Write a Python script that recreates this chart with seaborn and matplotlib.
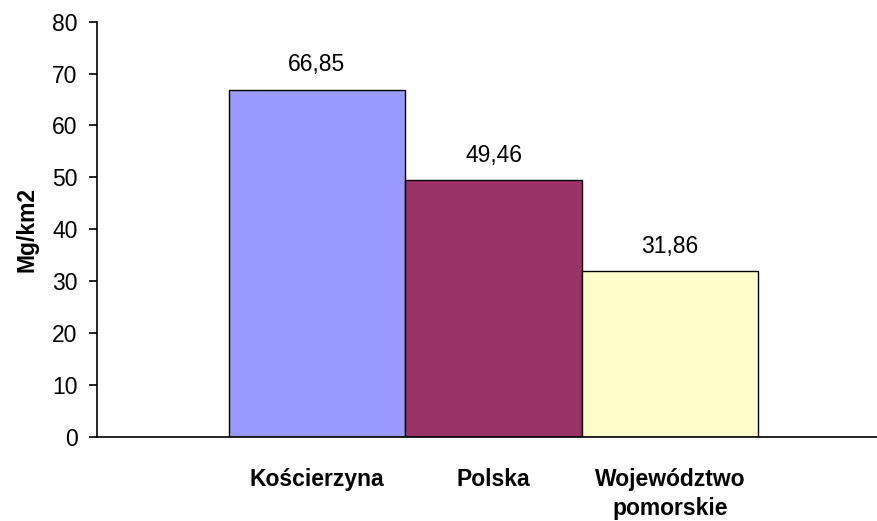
import matplotlib
matplotlib.use("Agg")
import matplotlib.pyplot as plt
import seaborn as sns

# data
categories = ["Kościerzyna", "Polska", "Województwo\npomorskie"]
values = [66.85, 49.46, 31.86]
colors = ["#9999FF", "#993366", "#FFFFCC"]

sns.set_style("white")
plt.rcParams["font.family"] = ["Liberation Sans", "DejaVu Sans"]
plt.rcParams["text.color"] = "black"
plt.rcParams["axes.labelcolor"] = "black"
plt.rcParams["xtick.color"] = "black"
plt.rcParams["ytick.color"] = "black"

fig = plt.figure(figsize=(8.78, 5.21), dpi=100)
ax = fig.add_axes([97 / 878, 1 - 436.5 / 521, 1 - 97 / 878, (436.5 - 21.7) / 521])

sns.barplot(x=categories, y=values, hue=categories, palette=colors, width=1,
            edgecolor="black", linewidth=1, legend=False, saturation=1, ax=ax)

# value labels
for i, v in enumerate(values):
    ax.annotate(f"{v:.2f}".replace(".", ","), (i, v), xytext=(0, 18),
                textcoords="offset points", ha="center", va="center", fontsize=16.5)

ax.set_xlim(-1.246, 3.178)
ax.set_ylim(0, 80)
ax.set_yticks(range(0, 81, 10))
ax.set_ylabel("Mg/km2", fontsize=16.5, fontweight="bold", labelpad=10)
ax.set_xlabel("")

sns.despine(ax=ax)
for s in ["left", "bottom"]:
    ax.spines[s].set_color("black")
    ax.spines[s].set_linewidth(1.2)
ax.tick_params(axis="y", length=6, width=1.2, labelsize=16.5, left=True, pad=8)
ax.tick_params(axis="x", length=0, pad=23)
for lab in ax.get_xticklabels():
    lab.set_fontweight("bold")
    lab.set_fontsize(16.5)
    lab.set_verticalalignment("top")
    lab.set_linespacing(1.3)

fig.savefig("out.png", dpi=100)
